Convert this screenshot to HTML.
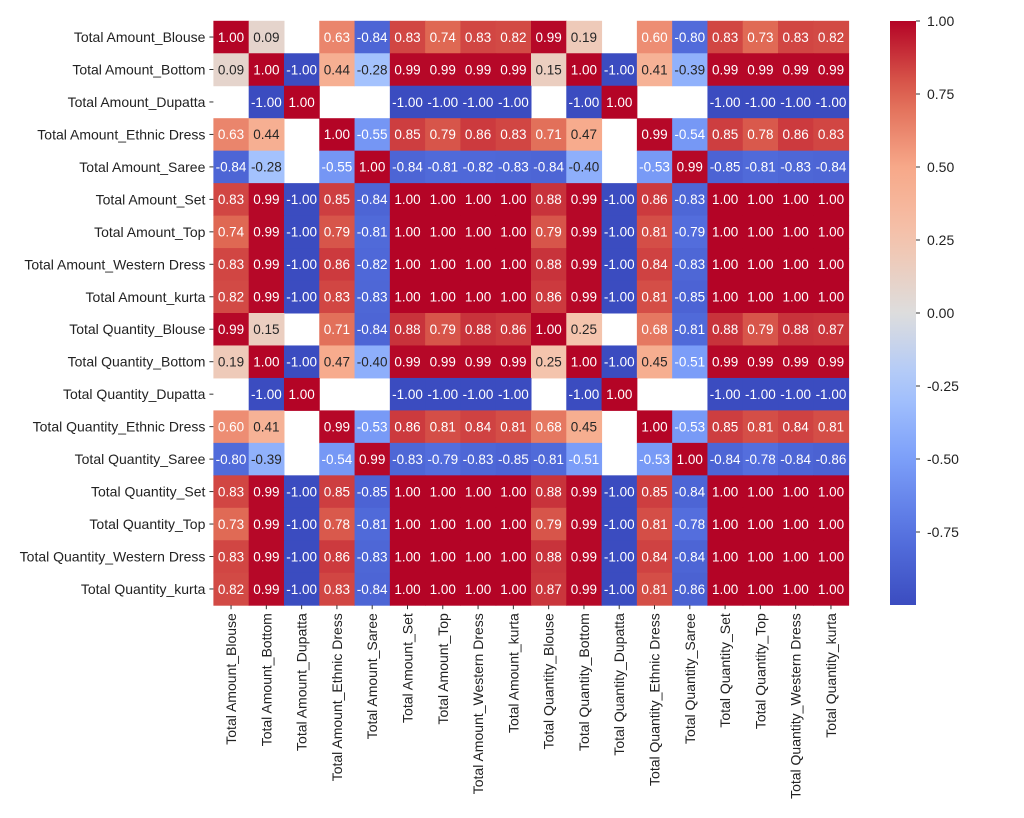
<!DOCTYPE html>
<html><head><meta charset="utf-8">
<style>
html,body{margin:0;padding:0;background:#fff;}
svg{display:block;font-family:"Liberation Sans",sans-serif;}
</style></head>
<body>
<svg id="chart" width="1024" height="818" viewBox="0 0 1024 818"></svg>
<script>
const labels = ["Total Amount_Blouse","Total Amount_Bottom","Total Amount_Dupatta","Total Amount_Ethnic Dress","Total Amount_Saree","Total Amount_Set","Total Amount_Top","Total Amount_Western Dress","Total Amount_kurta","Total Quantity_Blouse","Total Quantity_Bottom","Total Quantity_Dupatta","Total Quantity_Ethnic Dress","Total Quantity_Saree","Total Quantity_Set","Total Quantity_Top","Total Quantity_Western Dress","Total Quantity_kurta"];
const N = null;
const values = [
[1.00,0.09,N,0.63,-0.84,0.83,0.74,0.83,0.82,0.99,0.19,N,0.60,-0.80,0.83,0.73,0.83,0.82],
[0.09,1.00,-1,0.44,-0.28,0.99,0.99,0.99,0.99,0.15,1.00,-1,0.41,-0.39,0.99,0.99,0.99,0.99],
[N,-1,1,N,N,-1,-1,-1,-1,N,-1,1,N,N,-1,-1,-1,-1],
[0.63,0.44,N,1.00,-0.55,0.85,0.79,0.86,0.83,0.71,0.47,N,0.99,-0.54,0.85,0.78,0.86,0.83],
[-0.84,-0.28,N,-0.55,1.00,-0.84,-0.81,-0.82,-0.83,-0.84,-0.40,N,-0.53,0.99,-0.85,-0.81,-0.83,-0.84],
[0.83,0.99,-1,0.85,-0.84,1,1,1,1,0.88,0.99,-1,0.86,-0.83,1,1,1,1],
[0.74,0.99,-1,0.79,-0.81,1,1,1,1,0.79,0.99,-1,0.81,-0.79,1,1,1,1],
[0.83,0.99,-1,0.86,-0.82,1,1,1,1,0.88,0.99,-1,0.84,-0.83,1,1,1,1],
[0.82,0.99,-1,0.83,-0.83,1,1,1,1,0.86,0.99,-1,0.81,-0.85,1,1,1,1],
[0.99,0.15,N,0.71,-0.84,0.88,0.79,0.88,0.86,1.00,0.25,N,0.68,-0.81,0.88,0.79,0.88,0.87],
[0.19,1.00,-1,0.47,-0.40,0.99,0.99,0.99,0.99,0.25,1.00,-1,0.45,-0.51,0.99,0.99,0.99,0.99],
[N,-1,1,N,N,-1,-1,-1,-1,N,-1,1,N,N,-1,-1,-1,-1],
[0.60,0.41,N,0.99,-0.53,0.86,0.81,0.84,0.81,0.68,0.45,N,1.00,-0.53,0.85,0.81,0.84,0.81],
[-0.80,-0.39,N,-0.54,0.99,-0.83,-0.79,-0.83,-0.85,-0.81,-0.51,N,-0.53,1.00,-0.84,-0.78,-0.84,-0.86],
[0.83,0.99,-1,0.85,-0.85,1,1,1,1,0.88,0.99,-1,0.85,-0.84,1,1,1,1],
[0.73,0.99,-1,0.78,-0.81,1,1,1,1,0.79,0.99,-1,0.81,-0.78,1,1,1,1],
[0.83,0.99,-1,0.86,-0.83,1,1,1,1,0.88,0.99,-1,0.84,-0.84,1,1,1,1],
[0.82,0.99,-1,0.83,-0.84,1,1,1,1,0.87,0.99,-1,0.81,-0.86,1,1,1,1]
];
const cbTicks = [1.00,0.75,0.50,0.25,0.00,-0.25,-0.50,-0.75];

const NS="http://www.w3.org/2000/svg";
const svg=document.getElementById('chart');
function mk(t,a,p){const e=document.createElementNS(NS,t);for(const k in a)e.setAttribute(k,a[k]);(p||svg).appendChild(e);return e;}
const stops=[[0,[59,76,192]],[0.125,[87,115,225]],[0.25,[124,159,249]],[0.375,[170,199,253]],[0.5,[221,221,221]],[0.625,[244,196,173]],[0.75,[247,168,137]],[0.875,[222,101,81]],[1,[180,4,38]]];
function cmap(v){const t=Math.max(0,Math.min(1,(v+1)/2));for(let i=1;i<stops.length;i++){if(t<=stops[i][0]){const a=stops[i-1],b=stops[i];const f=(t-a[0])/(b[0]-a[0]);return a[1].map((c,j)=>Math.round(c+(b[1][j]-c)*f));}}return stops[stops.length-1][1];}
function lum(c){const l=c.map(x=>{x/=255;return x<=0.03928?x/12.92:Math.pow((x+0.055)/1.055,2.4);});return 0.2126*l[0]+0.7152*l[1]+0.0722*l[2];}
const L=213.4,T=20.8,W=635.2,H=584.4,n=labels.length,cw=W/n,ch=H/n;
const xs=i=>L+i*cw, ys=i=>T+i*ch;
const g=mk('g',{});


values.forEach((row,r)=>row.forEach((v,c)=>{
  if(v===null)return;
  const col=cmap(v);
  const rc=mk('rect',{x:xs(c),y:ys(r),width:cw+0.5,height:ch+0.5,fill:`rgb(${col})`},g);
  
  
  const tx=mk('text',{x:xs(c)+cw/2,y:ys(r)+ch/2+4.8,'text-anchor':'middle','font-size':'13.5',fill:lum(col)>0.408?'#262626':'#fff'},g);
  
  
  tx.textContent=v.toFixed(2);
}));
labels.forEach((lab,i)=>{
  const y=ys(i)+ch/2;
  mk('line',{x1:L-4,x2:L,y1:y,y2:y,stroke:'#333','stroke-width':1});
  const t=mk('text',{x:L-8,y:y+5,'text-anchor':'end','font-size':'14',fill:'#222'});
  
  
  t.textContent=lab;
  const x=xs(i)+cw/2;
  mk('line',{x1:x,x2:x,y1:T+H,y2:T+H+4,stroke:'#333','stroke-width':1});
  const t2=mk('text',{x:0,y:0,'text-anchor':'end','font-size':'14',fill:'#222',transform:`translate(${x+5},${T+H+8}) rotate(-90)`});
  
  
  t2.textContent=lab;
});
const cbx=890,cbw=26,cbt=21,cbb=605;
const defs=mk('defs',{});
const gr=mk('linearGradient',{id:'cg',x1:0,y1:1,x2:0,y2:0},defs);
for(let i=0;i<=20;i++){const v=-1+i*0.1;mk('stop',{offset:i/20,'stop-color':`rgb(${cmap(v)})`},gr);}
const cb=mk('rect',{x:cbx,y:cbt,width:cbw,height:cbb-cbt,fill:'url(#cg)'});


const cy=v=>cbb-(v+1)/2*(cbb-cbt);
cbTicks.forEach(v=>{
  const y=cy(v);
  mk('line',{x1:cbx+cbw,x2:cbx+cbw+4,y1:y,y2:y,stroke:'#333'});
  const t=mk('text',{x:cbx+cbw+11,y:y+5,'font-size':'14',fill:'#222'});
  
  
  t.textContent=v.toFixed(2);
});
</script>
</body></html>
